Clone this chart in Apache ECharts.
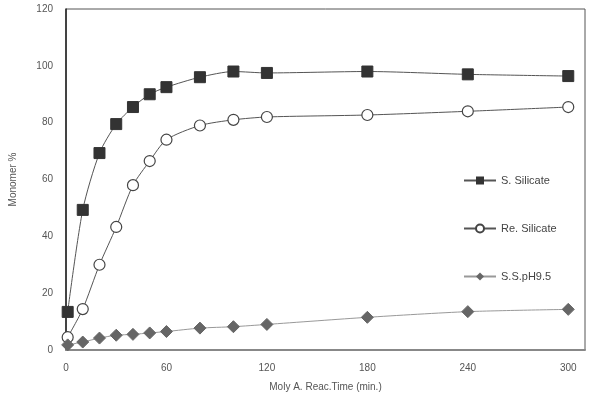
<!DOCTYPE html>
<html>
<head>
<meta charset="utf-8">
<script src="https://cdn.jsdelivr.net/npm/echarts@6/dist/echarts.min.js"></script>
<style>
    html, body { margin: 0; padding: 0; background: #fff; }
    #chart { width: 589px; height: 401px; }
</style>
</head>
<body>
<div id="chart"></div>
<script>
    var xTicks = [0, 60, 120, 180, 240, 300];

    var sSilicateTime = [1, 10, 20, 30, 40, 50, 60, 80, 100, 120, 180, 240, 300];
    var sSilicateValue = [13.4, 49.3, 69.3, 79.5, 85.5, 90, 92.5, 96, 98, 97.5, 98, 97, 96.4];

    var reSilicateTime = [1, 10, 20, 30, 40, 50, 60, 80, 100, 120, 180, 240, 300];
    var reSilicateValue = [4.5, 14.4, 30, 43.3, 58, 66.5, 74, 79, 81, 82, 82.7, 84, 85.5];

    var ssPhTime = [1, 10, 20, 30, 40, 50, 60, 80, 100, 120, 180, 240, 300];
    var ssPhValue = [1.8, 2.8, 4.2, 5.2, 5.5, 6, 6.5, 7.7, 8.2, 9, 11.5, 13.5, 14.3];

    function pairs(xs, ys) {
        var out = [];
        for (var i = 0; i < xs.length; i++) {
            out.push([xs[i], ys[i]]);
        }
        return out;
    }

    var myChart = echarts.init(document.getElementById('chart'));
    var option = {
        backgroundColor: '#fff',
        animation: false,
        textStyle: { fontFamily: 'Liberation Sans, Arial, sans-serif' },
        grid: {
            left: 60,
            right: 4,
            top: 9,
            bottom: 51,
            show: true,
            borderColor: '#555',
            borderWidth: 1
        },
        legend: {
            orient: 'vertical',
            left: 458,
            top: 170,
            itemWidth: 32,
            itemHeight: 10,
            itemGap: 37,
            textStyle: { color: '#444', fontSize: 11 },
            data: ['S. Silicate', 'Re. Silicate', 'S.S.pH9.5']
        },
        xAxis: {
            type: 'value',
            min: 0,
            max: 310,
            name: 'Moly A. Reac.Time (min.)',
            nameLocation: 'middle',
            nameGap: 32,
            nameTextStyle: { color: '#555', fontSize: 10 },
            axisLine: { lineStyle: { color: '#888', width: 2 } },
            axisTick: { show: false },
            splitLine: { show: false },
            axisLabel: {
                color: '#555',
                fontSize: 10,
                margin: 13,
                customValues: xTicks
            }
        },
        yAxis: {
            type: 'value',
            min: 0,
            max: 120,
            interval: 20,
            name: 'Monomer %',
            nameLocation: 'middle',
            nameGap: 48,
            nameTextStyle: { color: '#555', fontSize: 10 },
            axisLine: { show: true, lineStyle: { color: '#222', width: 1.5 } },
            axisTick: { show: false },
            splitLine: { show: false },
            axisLabel: { color: '#555', fontSize: 10, margin: 13 }
        },
        series: [
            {
                name: 'S. Silicate',
                type: 'line',
                smooth: 0.25,
                symbol: 'rect',
                symbolSize: 11,
                itemStyle: { color: '#333', borderColor: '#333' },
                lineStyle: { color: '#555', width: 1 },
                data: pairs(sSilicateTime, sSilicateValue)
            },
            {
                name: 'Re. Silicate',
                type: 'line',
                smooth: 0.25,
                symbol: 'circle',
                symbolSize: 11,
                itemStyle: { color: '#fff', borderColor: '#444', borderWidth: 1.2 },
                lineStyle: { color: '#555', width: 1 },
                data: pairs(reSilicateTime, reSilicateValue)
            },
            {
                name: 'S.S.pH9.5',
                type: 'line',
                smooth: 0.25,
                symbol: 'diamond',
                symbolSize: 12,
                itemStyle: { color: '#666', borderColor: '#666' },
                lineStyle: { color: '#999', width: 1 },
                data: pairs(ssPhTime, ssPhValue)
            }
        ]
    };
    myChart.setOption(option);
</script>
</body>
</html>
